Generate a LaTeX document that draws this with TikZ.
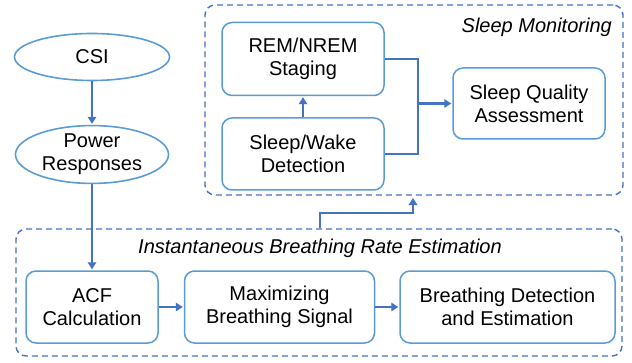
\documentclass[tikz,border=0pt]{standalone}
\usepackage{fontspec}
\setmainfont{Liberation Sans}
\usetikzlibrary{arrows,arrows.meta,shapes.geometric,positioning}
\definecolor{boxblue}{HTML}{5B9BD5}
\definecolor{lineblue}{HTML}{4472C4}
\begin{document}
\begin{tikzpicture}[x=1pt,y=1pt,>={Triangle[length=7pt,width=8.5pt]},
    font=\fontsize{20}{23}\selectfont,
    blockbox/.style={draw=boxblue,line width=1.5pt,rounded corners=10pt,
      minimum height=72pt,align=center,inner sep=0pt},
    ovalbox/.style={ellipse,draw=boxblue,line width=1.6pt,align=center,inner sep=0pt},
    groupbox/.style={draw=lineblue,line width=1.4pt,dash pattern=on 6pt off 4pt,
      rounded corners=10pt,inner sep=0pt},
    grouptitle/.style={font=\fontsize{20}{23}\selectfont\itshape,inner sep=0pt},
    flow/.style={->,draw=lineblue,line width=2.8pt,shorten >=1pt},
    link/.style={draw=lineblue,line width=2.8pt}]

  \useasboundingbox (0,0) rectangle (632,362);

  \node[groupbox,minimum width=418pt,minimum height=190pt] (sm) at (414,262) {};
  \node[groupbox,minimum width=606pt,minimum height=127pt] (ibre) at (319,69.5) {};
  \node[grouptitle,anchor=east] (smtitle) at (612,335) {Sleep Monitoring};
  \node[grouptitle] (ibretitle) at (320,114) {Instantaneous Breathing Rate Estimation};

  \node[ovalbox,minimum width=155pt,minimum height=47pt] (csi) at (92,305) {CSI};
  \node[ovalbox,minimum width=153pt,minimum height=57pt] (power) at (92,207.5) {Power\\Responses};

  \node[blockbox,minimum width=132pt] (acf) at (92,55) {ACF\\Calculation};
  \node[blockbox,minimum width=190pt] (max) [right=25pt of acf] {Maximizing\\Breathing Signal};
  \node[blockbox,minimum width=215pt] (detect) [right=24pt of max] {Breathing Detection\\and Estimation};

  \node[blockbox,minimum width=162pt] (sw) at (303,208) {Sleep/Wake\\Detection};
  \node[blockbox,minimum width=162pt,minimum height=73pt] (rem) [above=21pt of sw] {REM/NREM\\Staging};
  \node[blockbox,minimum width=152pt,minimum height=71pt] (quality) at (529,258.5) {Sleep Quality\\Assessment};

  \coordinate (join) at (418,258.5);
  \coordinate (ibreout) at (320,149);
  \coordinate (smin) at (413,165);

  \draw[flow] (csi) -- (power);
  \draw[flow] (power) -- (acf);
  \draw[flow] (acf) -- (max);
  \draw[flow] (max) -- (detect);
  \draw[flow] (sw) -- (rem);
  \draw[link] (rem.east) -| (join) |- (sw.east);
  \draw[flow] (join) -- (quality);
  \draw[flow] (ibre.north -| ibreout) -- (ibreout) -| (smin);

\end{tikzpicture}
\end{document}
